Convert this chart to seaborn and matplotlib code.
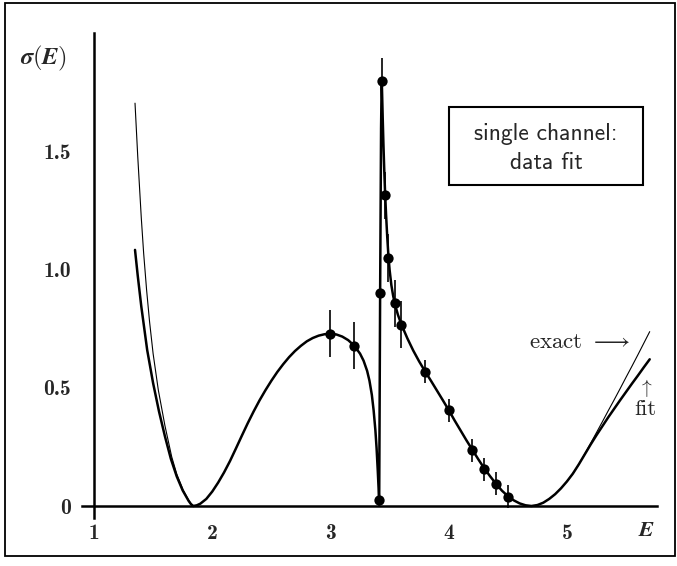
import numpy as np
import pandas as pd
import matplotlib
matplotlib.use("Agg")
import matplotlib.pyplot as plt
from matplotlib.patches import Rectangle
import seaborn as sns

# fitted cross section (thick curve)
fit_E = [1.347, 1.37, 1.40, 1.45, 1.50, 1.55, 1.60, 1.65, 1.70, 1.75, 1.80, 1.82, 1.84,
         1.87, 1.90, 1.95, 2.00, 2.05, 2.10, 2.15, 2.20, 2.25, 2.30, 2.35, 2.40,
         2.45, 2.50, 2.55, 2.60, 2.65, 2.70, 2.75, 2.80, 2.85, 2.90, 2.95, 3.00,
         3.05, 3.10, 3.15, 3.20, 3.25, 3.28, 3.31, 3.33, 3.35, 3.365, 3.38, 3.39,
         3.40, 3.407, 3.412,
         3.42, 3.428, 3.432, 3.434,
         3.437, 3.442, 3.448, 3.455, 3.462, 3.47, 3.48, 3.49, 3.50, 3.515, 3.53,
         3.545, 3.57, 3.60, 3.65, 3.70, 3.75, 3.80, 3.85, 3.90, 3.95, 4.00, 4.05,
         4.10, 4.15, 4.20, 4.25, 4.30, 4.35, 4.40, 4.45, 4.50, 4.55, 4.60, 4.65,
         4.70, 4.75, 4.80, 4.85, 4.90, 4.95, 5.00, 5.05, 5.10, 5.15, 5.20, 5.25,
         5.30, 5.35, 5.40, 5.45, 5.50, 5.55, 5.60, 5.65, 5.70]
fit_sigma = [1.084, 0.975, 0.845, 0.660, 0.520, 0.400, 0.295, 0.200, 0.125, 0.066, 0.022, 0.008, 0.0,
             0.003, 0.010, 0.030, 0.061, 0.099, 0.142, 0.190, 0.243, 0.297, 0.350, 0.400, 0.447,
             0.490, 0.530, 0.567, 0.600, 0.630, 0.656, 0.678, 0.697, 0.711, 0.721, 0.727, 0.729,
             0.726, 0.717, 0.702, 0.679, 0.645, 0.615, 0.572, 0.530, 0.470, 0.405, 0.320, 0.245,
             0.150, 0.075, 0.005,
             0.90, 1.60, 1.76, 1.80,
             1.74, 1.64, 1.53, 1.42, 1.325, 1.235, 1.14, 1.06, 1.00, 0.935, 0.89,
             0.855, 0.81, 0.768, 0.71, 0.658, 0.612, 0.570, 0.530, 0.489, 0.448, 0.406, 0.362,
             0.320, 0.278, 0.238, 0.198, 0.160, 0.126, 0.094, 0.065, 0.042, 0.024, 0.011, 0.003,
             0.0, 0.004, 0.014, 0.030, 0.050, 0.075, 0.104, 0.137, 0.176, 0.218, 0.260, 0.300,
             0.338, 0.376, 0.412, 0.448, 0.483, 0.518, 0.552, 0.587, 0.621]

# exact cross section (thin curve) where it separates from the fit
exact_left_E = [1.347, 1.37, 1.40, 1.42, 1.445, 1.47, 1.50, 1.544, 1.60, 1.657, 1.70,
                1.754, 1.80, 1.82, 1.84]
exact_left_sigma = [1.705, 1.48, 1.22, 1.07, 0.914, 0.78, 0.645, 0.491, 0.34, 0.209, 0.135,
                    0.068, 0.025, 0.010, 0.0]
exact_right_E = [5.00, 5.05, 5.10, 5.15, 5.20, 5.25, 5.30, 5.35, 5.40, 5.45, 5.50, 5.55,
                 5.60, 5.65, 5.70]
exact_right_sigma = [0.104, 0.137, 0.176, 0.220, 0.265, 0.311, 0.357, 0.404, 0.450, 0.497,
                     0.545, 0.592, 0.640, 0.689, 0.738]

# measured data points with error bars
data_E = [3.0, 3.2, 3.41, 3.42, 3.432, 3.46, 3.49, 3.545, 3.6, 3.8, 4.0, 4.2, 4.3, 4.4, 4.5]
data_sigma = [0.73, 0.678, 0.025, 0.90, 1.797, 1.315, 1.05, 0.858, 0.768, 0.569, 0.405, 0.235, 0.155, 0.095, 0.04]
data_err = [0.1, 0.1, 0.01, 0.1, 0.1, 0.1, 0.1, 0.1, 0.1, 0.05, 0.05, 0.05, 0.05, 0.05, 0.05]

x_ticks = [1, 2, 3, 4, 5]
y_ticks = [0, 0.5, 1.0, 1.5, 2.0]
y_tick_labels = ["0", "0.5", "1.0", "1.5", ""]

sns.set_style("white")
plt.rcParams["mathtext.fontset"] = "cm"

fig = plt.figure(figsize=(6.77, 5.66), dpi=100)
ax = fig.add_axes([0.1211, 0.0848, 0.8489, 0.8569])

fit_df = pd.DataFrame({"E": fit_E, "sigma": fit_sigma})
exact_df = pd.concat([
    pd.DataFrame({"E": exact_left_E, "sigma": exact_left_sigma, "seg": 0}),
    pd.DataFrame({"E": exact_right_E, "sigma": exact_right_sigma, "seg": 1}),
])
pts = pd.DataFrame({"E": data_E, "sigma": data_sigma, "err": data_err})

sns.lineplot(data=exact_df, x="E", y="sigma", units="seg", estimator=None, sort=False,
             color="black", linewidth=0.8, ax=ax)
sns.lineplot(data=fit_df, x="E", y="sigma", estimator=None, sort=False,
             color="black", linewidth=1.8, ax=ax)
ax.errorbar(pts["E"], pts["sigma"], yerr=pts["err"], fmt="none", ecolor="black",
            elinewidth=1.2, capsize=0)
sns.scatterplot(data=pts, x="E", y="sigma", color="black", s=55, edgecolor="black",
                linewidth=0, zorder=5, ax=ax)

ax.set_xlim(0.8985, 5.759)
ax.set_ylim(-0.0508, 2.002)
for side in ["top", "right"]:
    ax.spines[side].set_visible(False)
ax.spines["left"].set_position(("data", 1))
ax.spines["bottom"].set_position(("data", 0))
for side in ["left", "bottom"]:
    ax.spines[side].set_linewidth(1.8)
    ax.spines[side].set_color("black")

ax.set_xticks(x_ticks)
ax.set_xticklabels([str(t) for t in x_ticks])
ax.set_yticks(y_ticks)
ax.set_yticklabels(y_tick_labels)
ax.tick_params(axis="both", direction="out", length=8.6, width=1.6, color="black")
ax.tick_params(axis="x", pad=4)
ax.tick_params(axis="y", pad=8)
for lab in ax.get_xticklabels() + ax.get_yticklabels():
    lab.set_fontfamily("cmb10")
    lab.set_fontsize(15.5)
ax.set_xlabel("")
ax.set_ylabel("")

ax.text(5.677, -0.1015, r"$\boldsymbol{E}$", fontsize=16, ha="center", va="center",
        clip_on=False)
fig.text(43 / 677, 1 - 58 / 566, r"$\boldsymbol{\sigma}(\boldsymbol{E})$", fontsize=17.5,
         ha="center", va="center")

# label box
ax.add_patch(Rectangle((4.002, 1.358), 1.641, 0.330, fill=False, edgecolor="black",
                       linewidth=1.5, zorder=6))
ax.text(4.822, 1.574, "single channel:", fontfamily="cmss10", fontsize=17,
        ha="center", va="center")
ax.text(4.822, 1.451, "data fit", fontfamily="cmss10", fontsize=17,
        ha="center", va="center")

ax.text(5.108, 0.694, r"exact $\longrightarrow$", fontfamily="cmr10", fontsize=16.5,
        ha="center", va="center")
ax.text(5.662, 0.50, r"$\uparrow$", fontsize=14, ha="center", va="center")
ax.text(5.665, 0.41, "fit", fontfamily="cmr10", fontsize=16.5, ha="center", va="center")

# frame around the whole figure
fig.patches.append(Rectangle((0.0074, 0.0177), 0.9897, 0.977, transform=fig.transFigure,
                             fill=False, edgecolor="black", linewidth=1.3))

fig.savefig("out.png", dpi=100)
